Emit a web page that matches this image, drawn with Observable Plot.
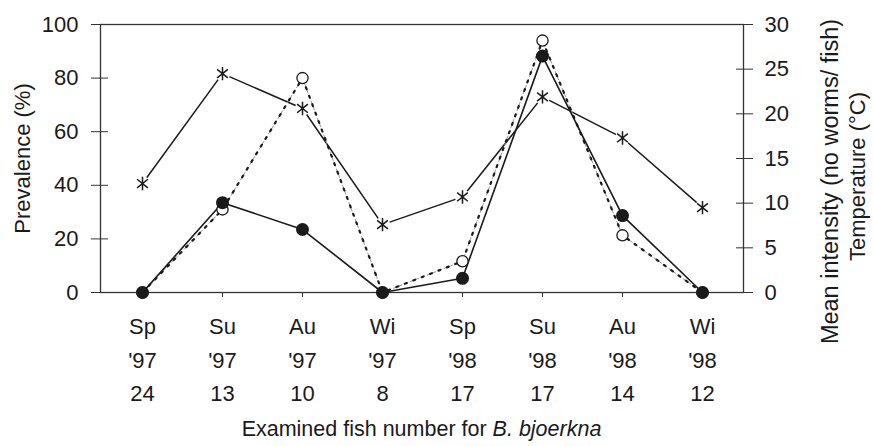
<!DOCTYPE html>
<html><head><meta charset="utf-8">
<script src="https://cdn.jsdelivr.net/npm/d3@7"></script>
<script src="https://cdn.jsdelivr.net/npm/@observablehq/plot@0.6"></script>
<style>body{margin:0;background:#fff} #chart{width:873px;height:446px;overflow:hidden}</style>
</head><body><div id="chart"></div>
<script>
const seasons = ["Sp","Su","Au","Wi","Sp","Su","Au","Wi"];
const years = ["'97","'97","'97","'97","'98","'98","'98","'98"];
const fishCounts = [24,13,10,8,17,17,14,12];
const prevalence = [0,33.5,23.5,0,5.3,88.2,28.7,0];          // %, left axis
const meanIntensity = [0,9.3,24,0,3.5,28.2,6.4,0];          // worms/fish, right axis
const temperature = [12.2,24.5,20.6,7.6,10.7,21.9,17.3,9.5]; // °C, right axis
const leftTicks = [0,20,40,60,80,100];
const rightTicks = [0,5,10,15,20,25,30];
const RIGHT_MAX = 30, LEFT_MAX = 100;

const idx = d3.range(seasons.length);
const toLeft = v => v * LEFT_MAX / RIGHT_MAX;

const asteriskSymbol = {
  draw(ctx, size) {
    const r = Math.sqrt(size / Math.PI) * 1.05;
    ctx.moveTo(0, -r); ctx.lineTo(0, r);
    ctx.moveTo(-0.8 * r, -0.64 * r); ctx.lineTo(0.8 * r, 0.64 * r);
    ctx.moveTo(-0.8 * r, 0.64 * r); ctx.lineTo(0.8 * r, -0.64 * r);
  }
};

const ink = "#1a1a1a";
const plot = Plot.plot({
  width: 873, height: 446,
  marginTop: 24, marginLeft: 100, marginRight: 130, marginBottom: 154,
  style: {fontFamily: "'Liberation Sans', Arial, sans-serif", fontSize: "22px", color: ink, background: "white"},
  x: {type: "point", domain: idx, padding: 0.5, axis: null},
  y: {domain: [0, LEFT_MAX], axis: null},
  marks: [
    // axes
    Plot.axisY(leftTicks, {anchor: "left", tickSize: 9, tickPadding: 13, label: null, stroke: "#333"}),
    Plot.axisY(leftTicks, {anchor: "left", tickSize: -8, fill: null, label: null, stroke: "#333"}),
    Plot.axisY(rightTicks.map(toLeft), {anchor: "right", tickSize: 9, tickPadding: 12, label: null, stroke: "#333",
      tickFormat: (d, i) => String(rightTicks[i])}),
    Plot.axisY(rightTicks.map(toLeft), {anchor: "right", tickSize: -8, fill: null, label: null, stroke: "#333"}),
    Plot.axisX(idx, {anchor: "bottom", tickSize: 5, tickPadding: 13, label: null, stroke: "#333", lineHeight: 1.52,
      tickFormat: i => `${seasons[i]}\n${years[i]}\n${fishCounts[i]}`}),
    Plot.frame({stroke: "#333", strokeWidth: 1.3}),
    // axis titles
    Plot.text(["Prevalence (%)"], {frameAnchor: "left", rotate: -90, dx: -78, dy: 0, textAnchor: "middle", lineAnchor: "middle", fill: ink}),
    Plot.text(["Mean intensity (no worms/ fish)"], {frameAnchor: "right", rotate: -90, dx: 87, dy: 23, textAnchor: "middle", lineAnchor: "middle", fontSize: 23.5, fill: ink}),
    Plot.text(["Temperature (°C)"], {frameAnchor: "right", rotate: -90, dx: 114, dy: 18, textAnchor: "middle", lineAnchor: "middle", fill: ink}),
    // temperature
    Plot.line(idx, {x: i => i, y: i => toLeft(temperature[i]), stroke: ink, strokeWidth: 1.5}),
    Plot.dot(idx, {x: i => i, y: i => toLeft(temperature[i]), r: 7.5, fill: "white"}),
    Plot.dot(idx, {x: i => i, y: i => toLeft(temperature[i]), r: 6.4, symbol: asteriskSymbol, stroke: ink, strokeWidth: 1.5}),
    // mean intensity
    Plot.line(idx, {x: i => i, y: i => toLeft(meanIntensity[i]), stroke: "#999", strokeWidth: 1, strokeDasharray: "3,3"}),
    Plot.line(idx, {x: i => i, y: i => toLeft(meanIntensity[i]), stroke: ink, strokeWidth: 2.2, strokeDasharray: "2,7"}),
    // prevalence
    Plot.line(idx, {x: i => i, y: i => prevalence[i], stroke: ink, strokeWidth: 1.6}),
    Plot.dot(idx, {x: i => i, y: i => toLeft(meanIntensity[i]), r: 5.6, fill: "white", stroke: ink, strokeWidth: 1.3}),
    Plot.dot(idx, {x: i => i, y: i => prevalence[i], r: 6.5, fill: ink})
  ]
});

const svg = d3.select(plot);
const lbl = svg.append("text")
  .attr("x", 100 + (873 - 100 - 130) / 2).attr("y", 436)
  .attr("text-anchor", "middle").attr("font-size", 21.5).attr("fill", ink);
lbl.append("tspan").text("Examined fish number for ");
lbl.append("tspan").attr("font-style", "italic").text("B. bjoerkna");

document.getElementById("chart").appendChild(plot);
</script>
</body></html>
